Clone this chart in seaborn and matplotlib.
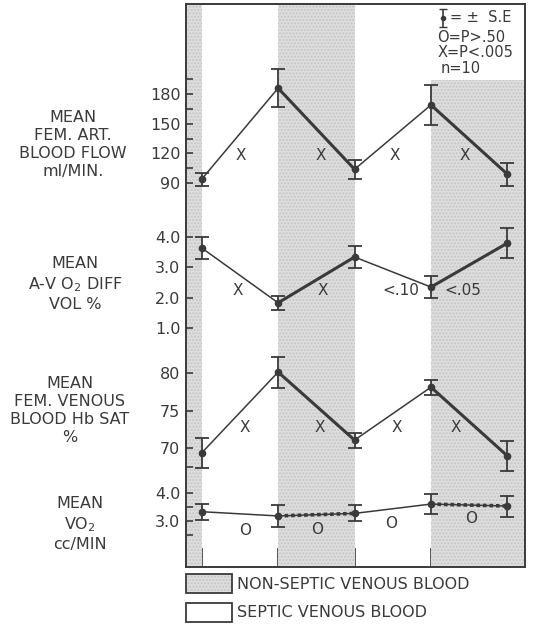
import seaborn as sns
import matplotlib.pyplot as plt
import matplotlib.patches as mpatches
import numpy as np
import pandas as pd

# five successive samples, alternating septic / non-septic venous blood
samples = [0, 1, 2, 3, 4]

flow_mean = [94, 186, 104, 169, 99]
flow_se = [6.4, 19, 9.5, 20.5, 11.5]
avdiff_mean = [3.64, 1.83, 3.34, 2.35, 3.80]
avdiff_se = [0.36, 0.22, 0.36, 0.35, 0.49]
hbsat_mean = [69.4, 80.1, 71.1, 78.1, 69.0]
hbsat_se = [2.0, 2.05, 1.0, 1.0, 2.0]
vo2_mean = [3.33, 3.18, 3.27, 3.60, 3.53]
vo2_se = [0.29, 0.39, 0.28, 0.34, 0.37]

flow_sig = ['X', 'X', 'X', 'X']
avdiff_sig = ['X', 'X', '<.10', '<.05']
hbsat_sig = ['X', 'X', 'X', 'X']
vo2_sig = ['O', 'O', 'O', 'O']

flow_ticks = [90, 120, 150, 180]
avdiff_ticks = [1.0, 2.0, 3.0, 4.0]
hbsat_ticks = [70, 75, 80]
vo2_ticks = [3.0, 4.0]

sns.set_style("white")
plt.rcParams['font.family'] = ['DejaVu Sans']
ink = '#3a3a3a'
shade = '#dedede'
dots = '#c4c4c4'

fig = plt.figure(figsize=(5.33, 6.24), dpi=100)
rect = [0.349, 0.0913, 0.636, 0.9022]
xlim = (-0.205, 4.23)

ax = fig.add_axes(rect)
ax.set_xlim(xlim)
ax.set_ylim(0, 1)
ax.axvspan(xlim[0], 0, color=shade, lw=0, hatch='.....', ec=dots)
ax.axvspan(1, 2, color=shade, lw=0, hatch='.....', ec=dots)
ax.axvspan(3, xlim[1], ymax=0.865, color=shade, lw=0, hatch='.....', ec=dots)
for s in ax.spines.values():
    s.set_visible(True)
    s.set_color(ink)
    s.set_linewidth(1.4)
ax.set_xticks(samples)
ax.set_xticklabels([])
ax.set_yticks([])
ax.tick_params(axis='x', direction='in', length=14, width=1.2, color=ink, bottom=True)

panels = [
    (flow_mean, flow_se, flow_sig, flow_ticks, (-298, 271), np.arange(90, 200, 15),
     [(0.51, 118), (1.56, 118), (2.52, 118), (3.44, 118)], False),
    (avdiff_mean, avdiff_se, avdiff_sig, avdiff_ticks, (-6.88, 11.68), [],
     [(0.47, 2.25), (1.58, 2.25), (2.6, 2.25), (3.42, 2.25)], False),
    (hbsat_mean, hbsat_se, hbsat_sig, hbsat_ticks, (54.3, 128.8), [67.5],
     [(0.57, 72.8), (1.55, 72.8), (2.55, 72.8), (3.32, 72.8)], False),
    (vo2_mean, vo2_se, vo2_sig, vo2_ticks, (1.375, 21.27), [2.5, 3.5],
     [(0.57, 2.68), (1.51, 2.7), (2.48, 2.93), (3.53, 3.1)], True),
]

for mean, se, sig, ticks, ylim, minor, sigpos, dotted in panels:
    pax = fig.add_axes(rect)
    pax.patch.set_alpha(0)
    for s in pax.spines.values():
        s.set_visible(False)
    df = pd.DataFrame({'sample': samples, 'value': mean})
    sns.lineplot(data=df, x='sample', y='value', ax=pax, color=ink, lw=1.1)
    for a, b in [(1, 2), (3, 4)]:
        seg = df.iloc[a:b + 1]
        if dotted:
            sns.lineplot(data=seg, x='sample', y='value', ax=pax, color=ink, lw=2.6, ls=(0, (1, 0.8)))
        else:
            sns.lineplot(data=seg, x='sample', y='value', ax=pax, color=ink, lw=2.2)
    pax.errorbar(samples, mean, yerr=se, fmt='o', ms=4.5, color=ink, ecolor=ink,
                 elinewidth=1.3, capsize=5, capthick=1.3)
    for (tx, ty), t in zip(sigpos, sig):
        pax.text(tx, ty, t, ha='center', va='center', fontsize=11, color=ink)
    pax.set_xlim(xlim)
    pax.set_ylim(ylim)
    pax.set_yticks(ticks)
    pax.set_yticklabels([f'{t:g}' if t >= 10 else f'{t:.1f}' for t in ticks])
    pax.set_yticks(minor, minor=True)
    pax.set_xticks([])
    pax.set_xlabel('')
    pax.set_ylabel('')
    pax.tick_params(axis='y', which='both', direction='in', left=True, length=5,
                    width=1.2, color=ink, labelsize=11.5, labelcolor=ink, pad=4)

labels = [
    ("MEAN\nFEM. ART.\nBLOOD FLOW\nml/MIN.", 73, 144),
    ("MEAN\nA-V O$_2$ DIFF\nVOL %", 75, 284),
    ("MEAN\nFEM. VENOUS\nBLOOD Hb SAT\n%", 70, 410),
    ("MEAN\nVO$_2$\ncc/MIN", 80, 524),
]
for txt, px, py in labels:
    fig.text(px / 533, 1 - py / 624, txt, ha='center', va='center', ma='center',
             fontsize=11.5, color=ink, linespacing=1.25)

# key in the upper right corner
ax.errorbar([0.757], [0.976], yerr=[0.016], fmt='o', ms=3, color=ink, capsize=3,
            elinewidth=1.2, transform=ax.transAxes)
ax.text(0.78, 0.976, "= ±  S.E", transform=ax.transAxes, fontsize=10.5, va='center', color=ink)
ax.text(0.742, 0.941, "O=P>.50", transform=ax.transAxes, fontsize=10.5, va='center', color=ink)
ax.text(0.742, 0.914, "X=P<.005", transform=ax.transAxes, fontsize=10.5, va='center', color=ink)
ax.text(0.750, 0.886, "n=10", transform=ax.transAxes, fontsize=10.5, va='center', color=ink)

# legend boxes below the frame
fig.patches.append(mpatches.Rectangle((0.349, 0.0497), 0.0863, 0.0304, transform=fig.transFigure,
                                      fc=shade, ec=dots, lw=0, hatch='.....'))
fig.patches.append(mpatches.Rectangle((0.349, 0.0497), 0.0863, 0.0304, transform=fig.transFigure,
                                      fc='none', ec=ink, lw=1.3))
fig.patches.append(mpatches.Rectangle((0.349, 0.0040), 0.0863, 0.0304, transform=fig.transFigure,
                                      fc='white', ec=ink, lw=1.3))
fig.text(0.4447, 0.064, "NON-SEPTIC VENOUS BLOOD", fontsize=11.5, va='center', color=ink)
fig.text(0.4447, 0.0184, "SEPTIC VENOUS BLOOD", fontsize=11.5, va='center', color=ink)

fig.savefig('out.png', dpi=100)
